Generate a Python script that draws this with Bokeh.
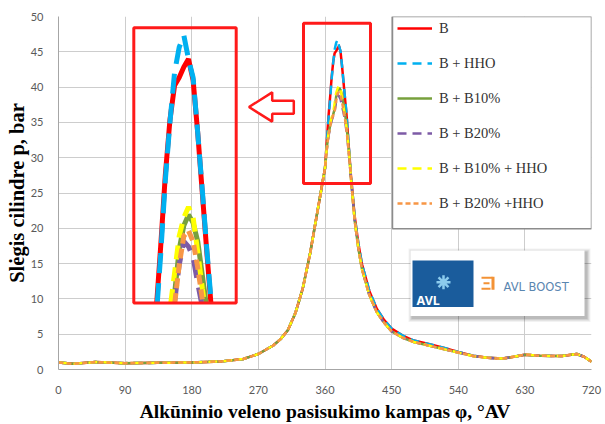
import numpy as np
from bokeh.plotting import figure
from bokeh.models import (Range1d, FixedTicker, Legend, LegendItem, BoxAnnotation,
                          PolyAnnotation, Label)
from bokeh.embed import file_html
from bokeh.resources import INLINE

# ---------------------------------------------------------------- data
x_ticks = [0, 90, 180, 270, 360, 450, 540, 630, 720]
y_ticks = [0, 5, 10, 15, 20, 25, 30, 35, 40, 45, 50]

# intake / compression part, common to all fuels
angle_head = [0, 20, 50, 90, 135, 180, 220, 250, 270, 290, 300, 310, 320, 330,
              340, 345, 350, 355, 360]
p_head = [1.0, 0.8, 1.05, 0.9, 0.95, 1.0, 1.15, 1.5, 2.2, 3.4, 4.3, 5.6, 8.0, 11.5,
          16.5, 19.5, 22.5, 25.5, 28.5]

# combustion peak, per fuel
angle_peak = [363, 365, 367, 369, 371, 373, 375, 377, 379, 381, 383, 385, 387,
              389, 391, 393]
p_b = [33.2, 36.2, 38.7, 41.4, 43.5, 44.8, 45.1, 45.5, 45.8, 45.0, 43.0, 40.7,
       38.4, 36.2, 33.2, 30.3]
p_b_hho = [33.0, 35.9, 38.4, 41.2, 43.4, 45.3, 46.25, 46.7, 45.8, 45.1, 43.0, 40.8,
           38.5, 36.4, 33.4, 30.4]
p_b10 = [31.9, 33.4, 34.6, 35.5, 36.1, 36.9, 38.6, 39.5, 39.9, 39.6, 38.9, 37.6,
         36.3, 34.6, 32.5, 30.1]
p_b20 = [31.8, 33.2, 34.4, 35.3, 35.9, 36.6, 38.0, 38.9, 38.7, 38.3, 37.3, 36.4,
         35.3, 33.8, 31.9, 29.7]
p_b10_hho = [32.0, 33.6, 34.8, 35.7, 36.3, 37.7, 39.1, 39.8, 40.2, 39.8, 38.5, 37.1,
             35.8, 34.3, 32.3, 30.0]
p_b20_hho = [31.8, 33.3, 34.5, 35.4, 36.0, 36.5, 38.0, 39.1, 39.3, 38.9, 37.9, 36.7,
             35.5, 34.0, 32.0, 29.8]

# expansion / exhaust part
angle_tail = [395, 400, 405, 410, 420, 430, 440, 450, 465, 480, 500, 520, 540, 560,
              580, 600, 615, 630, 650, 680, 700, 710, 720]
p_tail_diesel = [27.5, 21.8, 17.9, 14.9, 11.1, 8.6, 7.0, 5.8, 4.8, 4.1, 3.6, 3.1,
                 2.5, 1.95, 1.65, 1.55, 1.8, 2.1, 1.95, 1.9, 2.2, 1.8, 1.1]
p_tail_blend = [27.2, 21.2, 17.2, 14.2, 10.5, 8.1, 6.6, 5.4, 4.5, 3.9, 3.4, 2.9,
                2.4, 1.9, 1.65, 1.55, 1.8, 2.1, 1.95, 1.9, 2.2, 1.8, 1.1]

labels = ["B", "B + HHO", "B + B10%", "B + B20%", "B + B10% + HHO", "B + B20% +HHO"]
peaks = [p_b, p_b_hho, p_b10, p_b20, p_b10_hho, p_b20_hho]
tails = [p_tail_diesel, p_tail_diesel, p_tail_blend, p_tail_blend, p_tail_blend, p_tail_blend]
colors = ["#ff0000", "#00b0f0", "#77a03c", "#7d5ba6", "#ffff00", "#f79646"]
dashes = ["solid", "9 6", "solid", "9 6", "9 6", "5 3"]
inset_dashes = ["solid", "20 10", "solid", "18 10", "14 8", "10 5"]

# ---------------------------------------------------------------- layout
W, H = 605, 424
FL, FR, FT, FB = 58, 591, 16, 372          # plotting frame on the canvas (px)
X_MAX, Y_MAX = 720, 50


def cx(px):
    """canvas x (px) -> angle units"""
    return (px - FL) * X_MAX / (FR - FL)


def cy(py):
    """canvas y (px, from top) -> pressure units"""
    return (FB - py) * Y_MAX / (FB - FT)


p = figure(width=W, height=H, output_backend="svg", toolbar_location=None,
           x_range=Range1d(0, X_MAX), y_range=Range1d(0, Y_MAX),
           min_border_left=FL, min_border_right=W - FR,
           min_border_top=FT, min_border_bottom=H - FB)
p.outline_line_color = None
p.background_fill_color = "white"
p.border_fill_color = "white"

for ax in (p.xaxis[0], p.yaxis[0]):
    ax.major_label_text_font = "Lato"
    ax.major_label_text_font_size = "11px"
    ax.major_label_text_color = "#595959"
    ax.axis_line_color = "#a6a6a6"
    ax.major_tick_line_color = None
    ax.minor_tick_line_color = None
    ax.axis_label_text_font = "Liberation Serif"
    ax.axis_label_text_font_style = "bold"
    ax.axis_label_text_color = "#000000"

p.xaxis.ticker = FixedTicker(ticks=x_ticks)
p.yaxis.ticker = FixedTicker(ticks=y_ticks)
p.xaxis.major_label_standoff = 10
p.yaxis.major_label_standoff = 9
p.xaxis.axis_label = "Alkūninio veleno pasisukimo kampas φ, °AV"
p.yaxis.axis_label = "Slėgis cilindre p, bar"
p.xaxis.axis_label_text_font_size = "19.5px"
p.yaxis.axis_label_text_font_size = "20.5px"
p.xaxis.axis_label_standoff = 4
p.yaxis.axis_label_standoff = 0
p.xgrid.grid_line_color = "#cdcdcd"
p.ygrid.grid_line_color = "#cdcdcd"

# ---------------------------------------------------------------- curves
renderers = []
curves = []
for lab, pk, tl, col, dash in zip(labels, peaks, tails, colors, dashes):
    ang = angle_head + angle_peak + angle_tail
    prs = p_head + pk + tl
    curves.append((ang, prs))
    r = p.line(ang, prs, line_color=col, line_width=2.5, line_dash=dash)
    renderers.append(r)

# ---------------------------------------------------------------- magnified peak
# window of the peak that is enlarged (angle, pressure)
WIN_A0, WIN_A1 = 355.4, 399.6
WIN_P0, WIN_P1 = 36.56, 46.99
# where the enlargement is drawn on the canvas
IN_L, IN_R, IN_T, IN_B = 133.3, 235.7, 27.3, 305.0
BOX_X0, BOX_X1 = cx(IN_L), cx(IN_R)
BOX_Y0, BOX_Y1 = cy(IN_B), cy(IN_T)


def magnify(ang, prs):
    """part of a curve above the window floor, mapped into the enlarged box"""
    a = np.asarray(ang, float)
    v = np.asarray(prs, float)
    pa, pv = [], []
    for i in range(len(a)):
        if v[i] >= WIN_P0:
            if i > 0 and v[i - 1] < WIN_P0:
                t = (WIN_P0 - v[i - 1]) / (v[i] - v[i - 1])
                pa.append(a[i - 1] + t * (a[i] - a[i - 1]))
                pv.append(WIN_P0)
            pa.append(a[i])
            pv.append(v[i])
            if i < len(a) - 1 and v[i + 1] < WIN_P0:
                t = (v[i] - WIN_P0) / (v[i] - v[i + 1])
                pa.append(a[i] + t * (a[i + 1] - a[i]))
                pv.append(WIN_P0)
    pa = np.array(pa)
    pv = np.array(pv)
    mx = BOX_X0 + (pa - WIN_A0) / (WIN_A1 - WIN_A0) * (BOX_X1 - BOX_X0)
    my = BOX_Y0 + (pv - WIN_P0) / (WIN_P1 - WIN_P0) * (BOX_Y1 - BOX_Y0)
    return mx, my


for (ang, prs), col, dash in zip(curves, colors, inset_dashes):
    mx, my = magnify(ang, prs)
    p.line(mx, my, line_color=col, line_width=5, line_dash=dash)

red = "#ff1a1a"
p.add_layout(BoxAnnotation(left=BOX_X0, right=BOX_X1, bottom=BOX_Y0, top=BOX_Y1,
                           fill_alpha=0, line_color=red, line_alpha=1, line_width=3))
p.add_layout(BoxAnnotation(left=cx(303), right=cx(370), bottom=cy(184.3), top=cy(22.7),
                           fill_alpha=0, line_color=red, line_alpha=1, line_width=3))

# hollow arrow pointing at the enlargement
arrow_px = [(248.5, 107.3), (271.7, 92.5), (271.7, 101), (293.3, 101), (293.3, 114),
            (271.7, 114), (271.7, 122)]
p.add_layout(PolyAnnotation(xs=[cx(a) for a, b in arrow_px], ys=[cy(b) for a, b in arrow_px],
                            fill_color="white", fill_alpha=1, line_color=red,
                            line_alpha=1, line_width=2.5))

# ---------------------------------------------------------------- AVL badge
for k, al in enumerate([0.05, 0.06, 0.08, 0.1]):
    g = 4 - k
    p.add_layout(BoxAnnotation(left=cx(410 - g + 2), right=cx(584 + g + 2),
                               top=cy(252 - g + 2), bottom=cy(318 + g + 2),
                               fill_color="black", fill_alpha=al, line_alpha=0))
p.add_layout(BoxAnnotation(left=cx(410), right=cx(584), top=cy(252), bottom=cy(318),
                           fill_color="white", fill_alpha=1, line_alpha=0))
p.add_layout(BoxAnnotation(left=cx(412), right=cx(473), top=cy(262), bottom=cy(309),
                           fill_color="#1a5c9c", fill_alpha=1, line_alpha=0))
p.scatter([cx(443)], [cy(284)], marker="asterisk", size=14, line_color="#8ccbed",
          line_width=2.5, level="overlay")
p.add_layout(Label(x=cx(416), y=cy(302), text="AVL", text_color="white",
                   text_font="Noto Sans", text_font_style="bold", text_font_size="12.5px",
                   text_baseline="middle", text_align="left"))
orange = "#f39235"
for l_, r_, t_, b_ in [(481, 492, 278.5, 280.5), (483, 489, 284, 286),
                       (481, 490, 289.5, 291.5), (491, 494, 278.5, 291.5)]:
    p.add_layout(BoxAnnotation(left=cx(l_), right=cx(r_), top=cy(t_), bottom=cy(b_),
                               fill_color=orange, fill_alpha=1, line_alpha=0))
p.add_layout(Label(x=cx(503), y=cy(289), text="AVL BOOST", text_color="#5a86b0",
                   text_font="DejaVu Sans", text_font_size="11.5px",
                   text_baseline="middle", text_align="left"))

# ---------------------------------------------------------------- legend
p.add_layout(BoxAnnotation(left=cx(392), right=X_MAX, top=Y_MAX, bottom=cy(230),
                           fill_color="white", fill_alpha=1, line_color="#8c8c8c",
                           line_alpha=1, line_width=1.5))
legend = Legend(items=[LegendItem(label=l, renderers=[r]) for l, r in zip(labels, renderers)],
                location=(339, 156), padding=0, margin=0, spacing=15,
                glyph_width=35, glyph_height=20, label_height=20, label_standoff=7,
                border_line_color=None, background_fill_alpha=0,
                label_text_font="Liberation Serif", label_text_font_size="14.5px",
                label_text_color="#333333")
p.add_layout(legend)

open("out.html", "w").write(file_html(p, INLINE))
